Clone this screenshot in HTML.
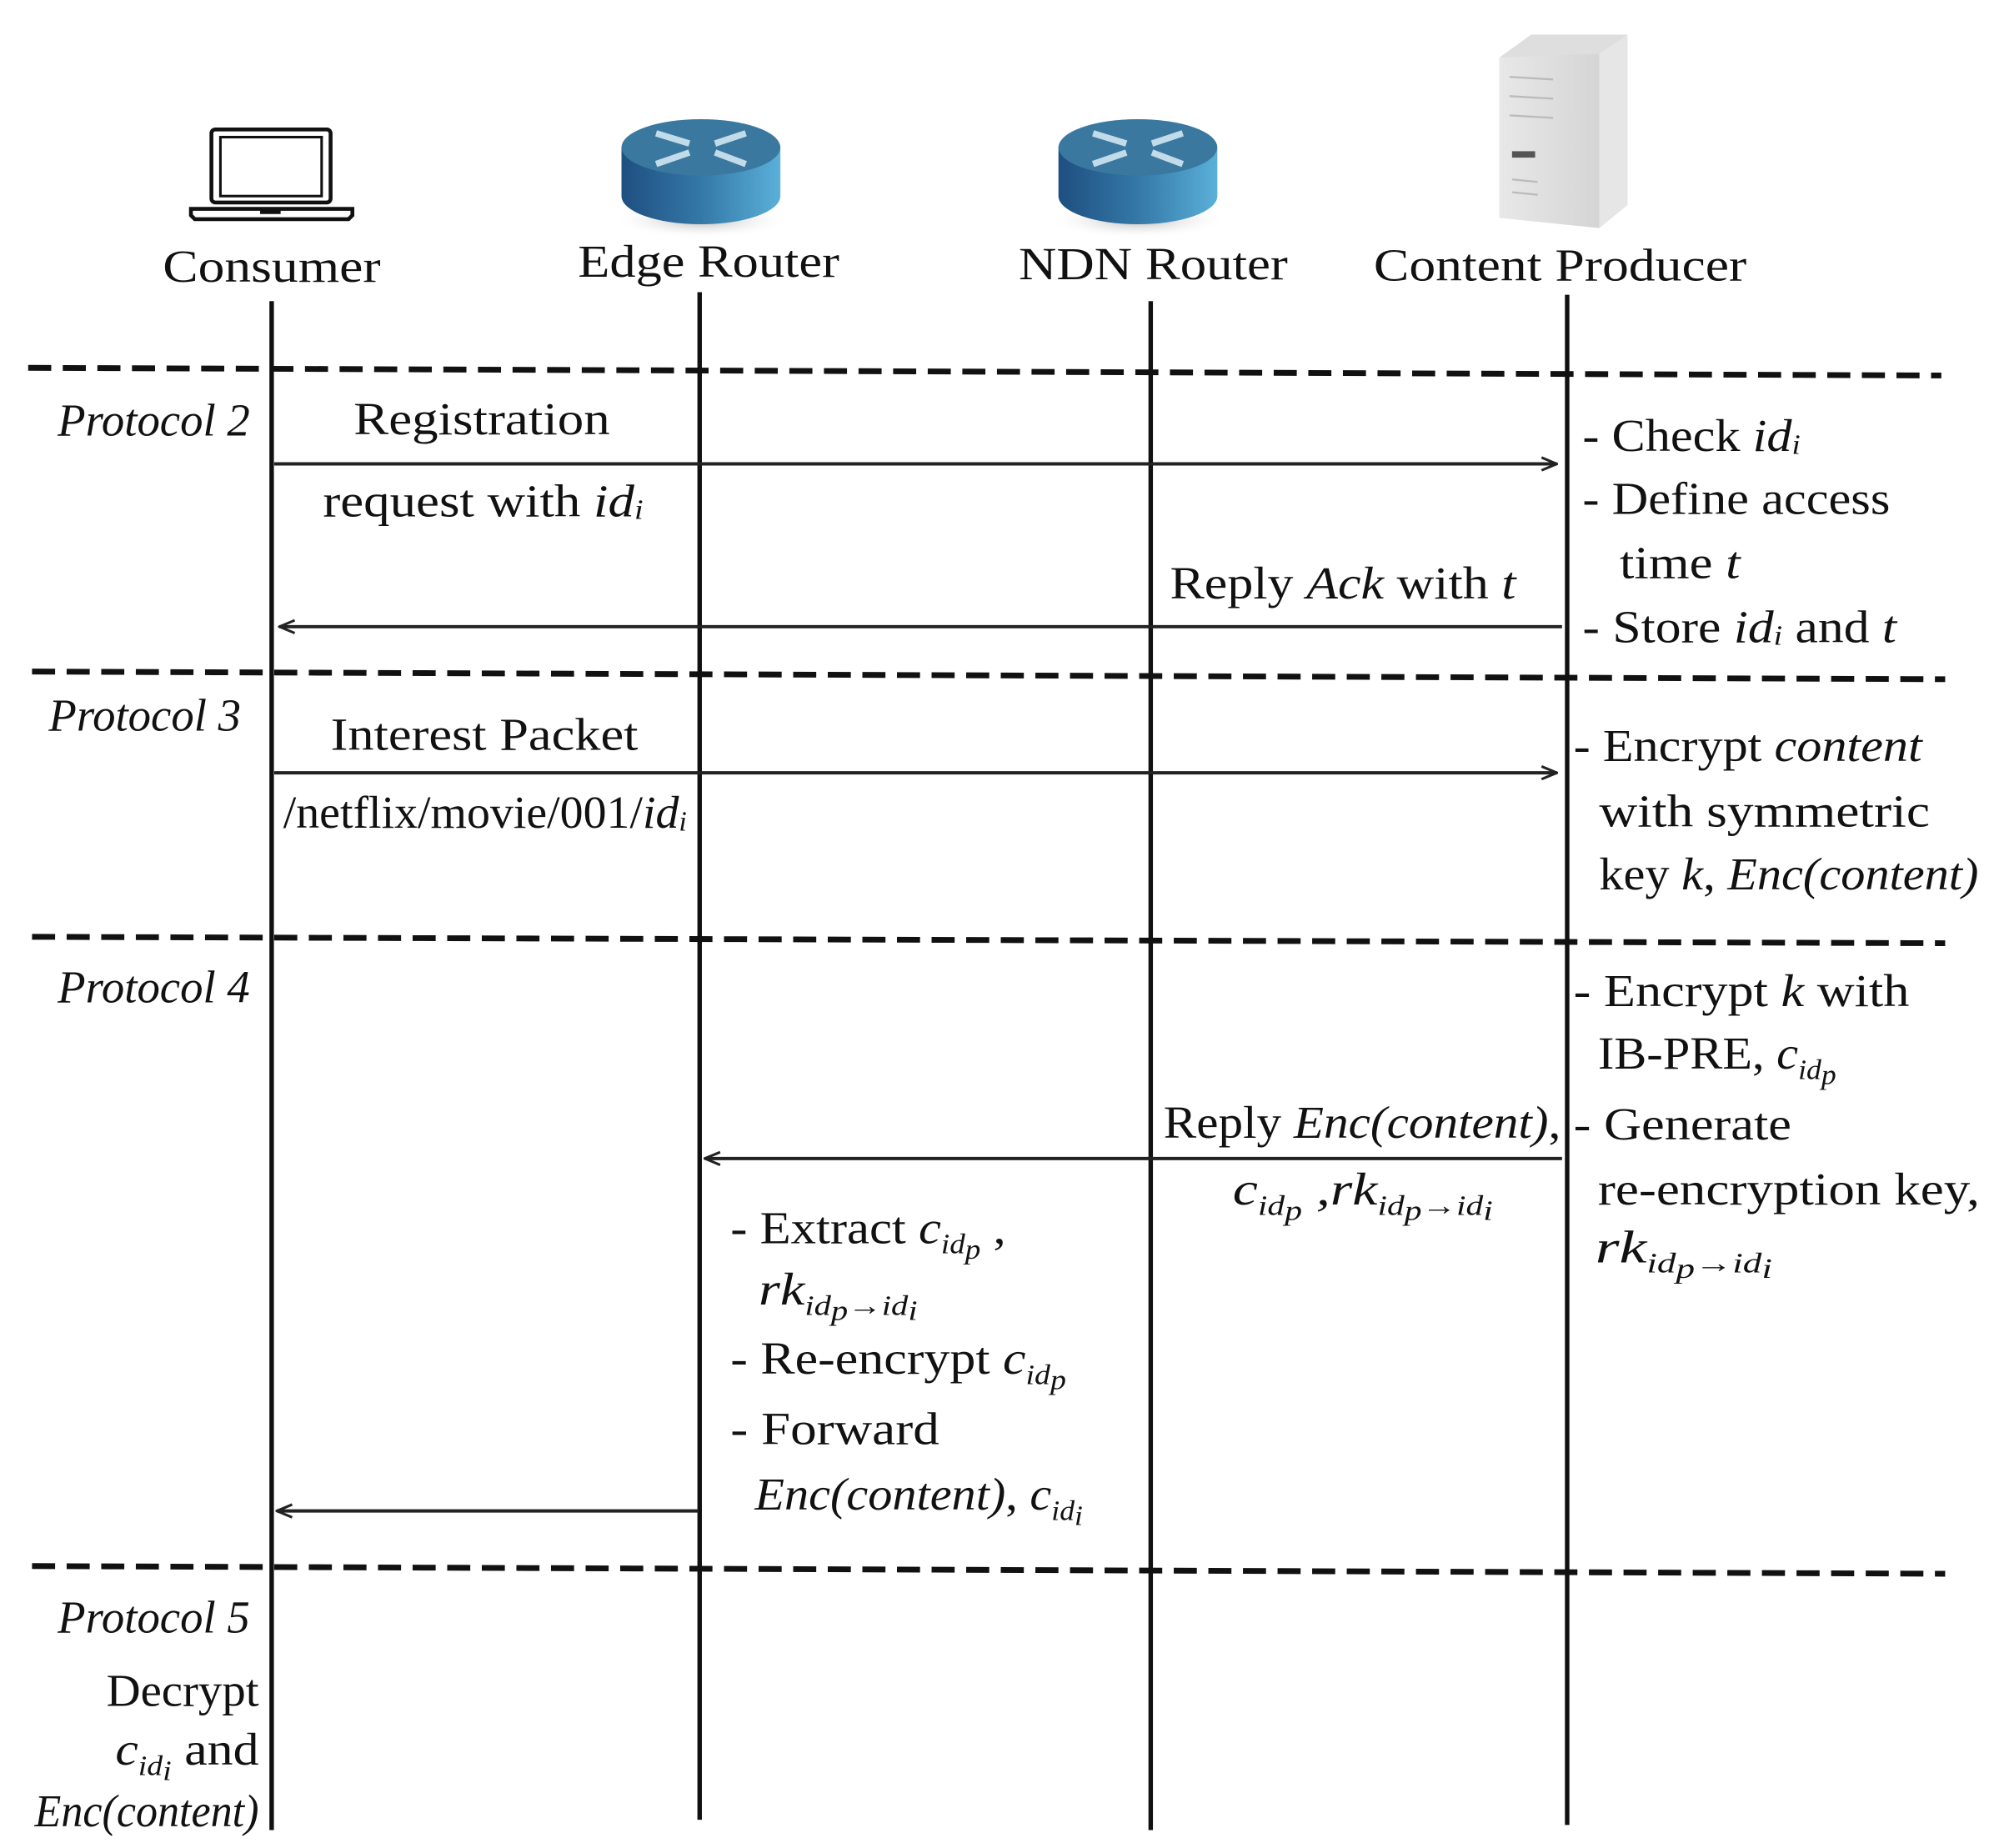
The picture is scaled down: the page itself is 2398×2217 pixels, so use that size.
<!DOCTYPE html>
<html><head><meta charset="utf-8"><style>
html,body{margin:0;padding:0;background:#fff}
svg{display:block}
text{font-family:"Liberation Serif",serif;font-size:36px;fill:#111}
.i{font-style:italic}
.s{font-size:22px;font-style:italic}
</style></head><body>
<svg width="2398" height="2217" viewBox="0 0 1560 1442" preserveAspectRatio="none" xmlns="http://www.w3.org/2000/svg">
<defs>
<linearGradient id="cyl" x1="0" x2="1"><stop offset="0" stop-color="#1e4f80"/><stop offset="0.5" stop-color="#3478a8"/><stop offset="1" stop-color="#5ab0d8"/></linearGradient>
<radialGradient id="sh" cx="0.5" cy="0.5" r="0.5"><stop offset="0" stop-color="#888" stop-opacity="0.6"/><stop offset="1" stop-color="#fff" stop-opacity="0"/></radialGradient>
<linearGradient id="srv" x1="0" x2="1"><stop offset="0" stop-color="#e8e8e8"/><stop offset="1" stop-color="#cfcfcf"/></linearGradient>
<marker id="ar" markerWidth="14" markerHeight="12" refX="13" refY="6" orient="auto" markerUnits="userSpaceOnUse"><path d="M1,1 L13,6 L1,11" fill="none" stroke="#222" stroke-width="2"/></marker>
</defs>
<!-- laptop -->
<rect x="165" y="101" width="93" height="57" rx="3" fill="none" stroke="#111" stroke-width="3"/>
<rect x="172" y="107" width="79" height="46" fill="none" stroke="#111" stroke-width="2"/>
<path d="M149,163 L275,163 L275,168 L272,171 L152,171 L149,168 Z" fill="none" stroke="#111" stroke-width="3"/>
<rect x="203" y="162" width="16" height="5" fill="#111"/>
<!-- routers -->
<g id="r1">
<ellipse cx="547" cy="172" rx="70" ry="14" fill="url(#sh)"/>
<path d="M485,115 L485,153 A62,22 0 0 0 609,153 L609,115 Z" fill="url(#cyl)"/>
<ellipse cx="547" cy="115" rx="62" ry="22" fill="#3a78a0"/>
<g stroke="#c2dbe8" stroke-width="5" fill="#c2dbe8">
<line x1="512" y1="104" x2="538" y2="112"/><line x1="582" y1="104" x2="558" y2="112"/>
<line x1="512" y1="128" x2="538" y2="119"/><line x1="582" y1="128" x2="558" y2="119"/>
</g>
</g>
<use href="#r1" x="341"/>
<!-- server -->
<path d="M1170,45 L1195,27 L1270,27 L1270,160 L1248,178 L1170,170 Z" fill="url(#srv)"/>
<path d="M1170,45 L1195,27 L1270,27 L1248,42 Z" fill="#dedede"/>
<path d="M1248,42 L1270,27 L1270,160 L1248,178 Z" fill="#e6e6e6"/>
<rect x="1180" y="118" width="18" height="5" fill="#555"/>
<g stroke="#bbb" stroke-width="1.5"><line x1="1178" y1="60" x2="1212" y2="62"/><line x1="1178" y1="75" x2="1212" y2="77"/><line x1="1178" y1="90" x2="1212" y2="92"/><line x1="1180" y1="140" x2="1200" y2="142"/><line x1="1180" y1="150" x2="1200" y2="152"/></g>
<!-- headers -->
<g lengthAdjust="spacingAndGlyphs">
<text x="127" y="220" textLength="170" lengthAdjust="spacingAndGlyphs">Consumer</text>
<text x="451" y="216" textLength="204" lengthAdjust="spacingAndGlyphs">Edge Router</text>
<text x="795" y="218" textLength="210" lengthAdjust="spacingAndGlyphs">NDN Router</text>
<text x="1072" y="219" textLength="291" lengthAdjust="spacingAndGlyphs">Content Producer</text>
</g>
<!-- lifelines -->
<g stroke="#111" stroke-width="3.5">
<line x1="212" y1="235" x2="212" y2="1428"/>
<line x1="546" y1="228" x2="546" y2="1420"/>
<line x1="898" y1="235" x2="898" y2="1428"/>
<line x1="1223" y1="230" x2="1223" y2="1424"/>
</g>
<!-- dashed -->
<g stroke="#111" stroke-width="4.5" stroke-dasharray="18,9">
<line x1="22" y1="287" x2="1515" y2="293"/>
<line x1="25" y1="524" x2="1518" y2="530"/>
<line x1="25" y1="731" x2="1518" y2="736"/>
<line x1="25" y1="1222" x2="1518" y2="1228"/>
</g>
<!-- arrows -->
<g stroke="#222" stroke-width="2.6" marker-end="url(#ar)">
<line x1="214" y1="362" x2="1215" y2="362"/>
<line x1="1219" y1="489" x2="218" y2="489"/>
<line x1="214" y1="603" x2="1215" y2="603"/>
<line x1="1219" y1="904" x2="550" y2="904"/>
<line x1="545" y1="1179" x2="216" y2="1179"/>
</g>
<!-- Protocol 2 -->
<text class="i" x="45" y="340" textLength="150" lengthAdjust="spacingAndGlyphs">Protocol 2</text>
<text x="276" y="339" textLength="200" lengthAdjust="spacingAndGlyphs">Registration</text>
<text x="252" y="403" textLength="250" lengthAdjust="spacingAndGlyphs">request with <tspan class="i">id</tspan><tspan class="s" dy="2">i</tspan></text>
<text x="913" y="467" textLength="270" lengthAdjust="spacingAndGlyphs">Reply <tspan class="i">Ack</tspan> with <tspan class="i">t</tspan></text>
<text x="1235" y="352" textLength="170" lengthAdjust="spacingAndGlyphs">- Check <tspan class="i">id</tspan><tspan class="s" dy="2">i</tspan></text>
<text x="1235" y="401" textLength="240" lengthAdjust="spacingAndGlyphs">- Define access</text>
<text x="1264" y="451" textLength="94" lengthAdjust="spacingAndGlyphs">time <tspan class="i">t</tspan></text>
<text x="1235" y="501" textLength="245" lengthAdjust="spacingAndGlyphs">- Store <tspan class="i">id</tspan><tspan class="s" dy="2">i</tspan><tspan dy="-2"> and </tspan><tspan class="i">t</tspan></text>
<!-- Protocol 3 -->
<text class="i" x="38" y="570" textLength="150" lengthAdjust="spacingAndGlyphs">Protocol 3</text>
<text x="258" y="585" textLength="240" lengthAdjust="spacingAndGlyphs">Interest Packet</text>
<text x="221" y="646" textLength="315" lengthAdjust="spacingAndGlyphs">/netflix/movie/001/<tspan class="i">id</tspan><tspan class="s" dy="2">i</tspan></text>
<text x="1228" y="594" textLength="272" lengthAdjust="spacingAndGlyphs">- Encrypt <tspan class="i">content</tspan></text>
<text x="1248" y="645" textLength="258" lengthAdjust="spacingAndGlyphs">with symmetric</text>
<text x="1248" y="694" textLength="296" lengthAdjust="spacingAndGlyphs">key <tspan class="i">k</tspan>, <tspan class="i">Enc(content)</tspan></text>
<!-- Protocol 4 -->
<text class="i" x="45" y="782" textLength="150" lengthAdjust="spacingAndGlyphs">Protocol 4</text>
<text x="1228" y="785" textLength="262" lengthAdjust="spacingAndGlyphs">- Encrypt <tspan class="i">k</tspan> with</text>
<text x="1247" y="834" textLength="186" lengthAdjust="spacingAndGlyphs">IB-PRE, <tspan class="i">c</tspan><tspan class="s" dy="8">id</tspan><tspan class="s" font-size="16" dy="4">p</tspan></text>
<text x="908" y="888" textLength="310" lengthAdjust="spacingAndGlyphs">Reply <tspan class="i">Enc(content)</tspan>,</text>
<text x="962" y="940" class="i" textLength="203" lengthAdjust="spacingAndGlyphs">c<tspan class="s" dy="8">id</tspan><tspan class="s" font-size="16" dy="4">p</tspan><tspan dy="-12"> ,rk</tspan><tspan class="s" dy="8">id</tspan><tspan class="s" font-size="16" dy="4">p</tspan><tspan class="s" dy="-4">→id</tspan><tspan class="s" font-size="16" dy="4">i</tspan></text>
<text x="1228" y="889" textLength="170" lengthAdjust="spacingAndGlyphs">- Generate</text>
<text x="1247" y="940" textLength="298" lengthAdjust="spacingAndGlyphs">re-encryption key,</text>
<text x="1245" y="985" class="i" textLength="138" lengthAdjust="spacingAndGlyphs">rk<tspan class="s" dy="8">id</tspan><tspan class="s" font-size="16" dy="4">p</tspan><tspan class="s" dy="-4">→id</tspan><tspan class="s" font-size="16" dy="4">i</tspan></text>
<text x="570" y="970" textLength="215" lengthAdjust="spacingAndGlyphs">- Extract <tspan class="i">c</tspan><tspan class="s" dy="8">id</tspan><tspan class="s" font-size="16" dy="4">p</tspan><tspan dy="-12"> ,</tspan></text>
<text x="592" y="1018" class="i" textLength="124" lengthAdjust="spacingAndGlyphs">rk<tspan class="s" dy="8">id</tspan><tspan class="s" font-size="16" dy="4">p</tspan><tspan class="s" dy="-4">→id</tspan><tspan class="s" font-size="16" dy="4">i</tspan></text>
<text x="570" y="1072" textLength="262" lengthAdjust="spacingAndGlyphs">- Re-encrypt <tspan class="i">c</tspan><tspan class="s" dy="8">id</tspan><tspan class="s" font-size="16" dy="4">p</tspan></text>
<text x="570" y="1127" textLength="163" lengthAdjust="spacingAndGlyphs">- Forward</text>
<text x="589" y="1178" textLength="256" lengthAdjust="spacingAndGlyphs"><tspan class="i">Enc(content)</tspan>, <tspan class="i">c</tspan><tspan class="s" dy="8">id</tspan><tspan class="s" font-size="16" dy="4">i</tspan></text>
<!-- Protocol 5 -->
<text class="i" x="45" y="1274" textLength="150" lengthAdjust="spacingAndGlyphs">Protocol 5</text>
<text x="83" y="1331" textLength="119" lengthAdjust="spacingAndGlyphs">Decrypt</text>
<text x="90" y="1377" textLength="112" lengthAdjust="spacingAndGlyphs"><tspan class="i">c</tspan><tspan class="s" dy="8">id</tspan><tspan class="s" font-size="16" dy="4">i</tspan><tspan dy="-12"> and</tspan></text>
<text x="27" y="1425" class="i" textLength="175" lengthAdjust="spacingAndGlyphs">Enc(content)</text>
</svg>
</body></html>
